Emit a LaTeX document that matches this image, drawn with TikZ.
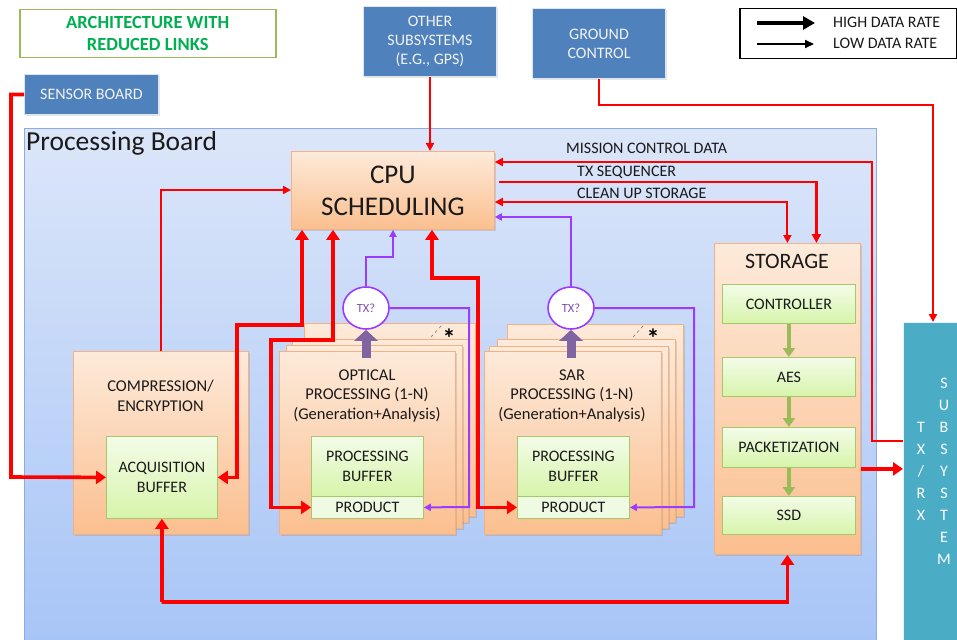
\documentclass[tikz,border=0pt]{standalone}
\usepackage{fontspec}
\setmainfont{Carlito}
\usetikzlibrary{arrows.meta,shadows,shapes.geometric}
\definecolor{rd}{HTML}{FF0000}
\definecolor{pur}{HTML}{9B3BFF}
\definecolor{purk}{HTML}{8064A2}
\definecolor{purt}{HTML}{7F4FB0}
\definecolor{blu}{HTML}{4F81BD}
\definecolor{tea}{HTML}{4BACC6}
\definecolor{grn}{HTML}{9BBB59}
\definecolor{titleg}{HTML}{00B050}
\definecolor{ortop}{HTML}{FDEADA}
\definecolor{orbot}{HTML}{FBBF8F}
\definecolor{orbd}{HTML}{F4B183}
\definecolor{grtop}{HTML}{F3FCE8}
\definecolor{grbot}{HTML}{D7F4AA}
\definecolor{grbd}{HTML}{A5C86A}
\definecolor{prodc}{HTML}{EEFAE2}
\definecolor{bdtop}{HTML}{DCE6F9}
\definecolor{bdbot}{HTML}{A7C5F7}
\definecolor{bdbd}{HTML}{8FAADC}
\definecolor{txt}{HTML}{1A1A1A}
\begin{document}
\begin{tikzpicture}[x=1pt,y=-1pt,
  every node/.style={inner sep=0pt, text=txt},
  fsz/.style={font=\fontsize{16}{19.5}\selectfont},
  orbox/.style={draw=orbd, line width=0.8pt, top color=ortop, bottom color=orbot, anchor=north west,
    drop shadow={shadow xshift=1.2pt, shadow yshift=-1.2pt, opacity=0.25}},
  grbox/.style={draw=grbd, line width=0.8pt, top color=grtop, bottom color=grbot, anchor=north west,
    align=center, fsz, drop shadow={shadow xshift=1pt, shadow yshift=-1pt, opacity=0.2}},
  bluebox/.style={fill=blu, draw=white!80!blu, line width=1pt, anchor=north west, text=white!95!black,
    align=center, font=\fontsize{16}{19}\selectfont,
    drop shadow={shadow xshift=1.2pt, shadow yshift=-1.2pt, opacity=0.2}},
  hi/.style={draw=rd, line width=3.6pt, >={Triangle[width=13pt,length=10pt]}},
  mid/.style={draw=rd, line width=2.6pt, >={Triangle[width=9pt,length=9pt]}},
  lo/.style={draw=rd, line width=2pt, >={Triangle[width=8pt,length=8pt]}},
  pu/.style={draw=pur, line width=2pt, >={Triangle[width=7pt,length=7pt]}},
  garr/.style={draw=grn, line width=4pt, -{Triangle[width=12pt,length=9pt]}},
  txq/.style={ellipse, draw=pur, line width=1.6pt, fill=white, minimum width=46pt, minimum height=42pt,
    text=purt, font=\fontsize{12.5}{14}\selectfont},
  lbl/.style={anchor=west, fsz}
]
\useasboundingbox (0,0) rectangle (957,639);
\fill[white] (0,0) rectangle (957,639);

% processing board
\node[draw=bdbd, line width=0.8pt, top color=bdtop, bottom color=bdbot, anchor=north west,
  minimum width=852pt, minimum height=515pt] (board) at (24,128) {};
\node[anchor=west, font=\fontsize{27.5}{30}\selectfont] (boardlbl) at (26,143) {Processing Board};

% title
\node[draw=grn, line width=1.5pt, fill=white, anchor=north west, minimum width=256pt, minimum height=48pt,
  align=center, font=\bfseries\fontsize{18.5}{22}\selectfont, text=titleg] (title) at (19,9)
  {ARCHITECTURE WITH\\REDUCED LINKS};

% blue boxes
\node[bluebox, minimum width=134pt, minimum height=40pt] (sensor) at (24,74) {SENSOR BOARD};
\node[bluebox, minimum width=133pt, minimum height=70pt] (oth) at (363,6) {OTHER\\SUBSYSTEMS\\(E.G., GPS)};
\node[bluebox, minimum width=133pt, minimum height=70pt] (gc) at (532,8) {GROUND\\CONTROL};

% legend
\node[draw=black, line width=1.5pt, fill=white, anchor=north west, minimum width=217pt, minimum height=50pt] (legend) at (739,8) {};
\coordinate (lh1) at (757,23); \coordinate (lh2) at (815,23);
\coordinate (ll1) at (757,44); \coordinate (ll2) at (814,44);
\draw[black, line width=4pt, -{Triangle[width=13pt,length=12pt]}] (lh1) -- (lh2);
\draw[black, line width=2pt, -{Triangle[width=8pt,length=9pt]}] (ll1) -- (ll2);
\node[lbl] (lgh) at (833,22) {HIGH DATA RATE};
\node[lbl] (lgl) at (833,43) {LOW DATA RATE};

% CPU
\node[orbox, minimum width=203pt, minimum height=78pt, align=center, font=\fontsize{27}{32}\selectfont] (cpu) at (291,151) {CPU\\SCHEDULING};

% compression
\node[orbox, minimum width=175pt, minimum height=183pt] (comp) at (73,351) {};
\node[align=center, font=\fontsize{16.5}{20}\selectfont] (compt) at (160.5,396) {COMPRESSION/\\ENCRYPTION};
\node[grbox, minimum width=111pt, minimum height=82pt] (acq) at (106,436) {ACQUISITION\\BUFFER};

% optical stack
\node[orbox, minimum width=171pt, minimum height=193pt] (ol4) at (304,323) {};
\node[orbox, minimum width=176pt, minimum height=183pt] (ol3) at (292,339) {};
\node[orbox, minimum width=176pt, minimum height=183pt] (ol2) at (286,345) {};
\node[orbox, minimum width=176pt, minimum height=183pt] (opt) at (279,351) {};
\node[align=center, font=\fontsize{16.5}{19.5}\selectfont] (optt) at (367,395.5) {OPTICAL\\PROCESSING (1-N)\\(Generation+Analysis)};
\node[grbox, minimum width=112pt, minimum height=60pt] (obuf) at (311,436) {PROCESSING\\BUFFER};
\node[draw=grbd, line width=0.8pt, fill=prodc, anchor=north west, minimum width=112pt, minimum height=22pt, fsz] (oprod) at (311,496) {PRODUCT};
\draw[gray, dashed, line width=0.6pt] (431,337) -- (442,325);
\node[font=\bfseries\fontsize{26}{26}\selectfont, text=black] (ostar) at (449,338) {*};

% SAR stack
\node[orbox, minimum width=176pt, minimum height=192pt] (sl4) at (507,324) {};
\node[orbox, minimum width=178pt, minimum height=183pt] (sl3) at (497,339) {};
\node[orbox, minimum width=179pt, minimum height=182pt] (sl2) at (489,346) {};
\node[orbox, minimum width=177pt, minimum height=183pt] (sar) at (484,351) {};
\node[align=center, font=\fontsize{16.5}{19.5}\selectfont] (sart) at (572,395.5) {SAR\\PROCESSING (1-N)\\(Generation+Analysis)};
\node[grbox, minimum width=112pt, minimum height=60pt] (sbuf) at (517,436) {PROCESSING\\BUFFER};
\node[draw=grbd, line width=0.8pt, fill=prodc, anchor=north west, minimum width=112pt, minimum height=22pt, fsz] (sprod) at (517,496) {PRODUCT};
\draw[gray, dashed, line width=0.6pt] (633,337) -- (644,325);
\node[font=\bfseries\fontsize{26}{26}\selectfont, text=black] (sstar) at (653,338) {*};

% TX? circles
\node[txq] (tx1) at (366,308) {TX?};
\node[txq] (tx2) at (571,308) {TX?};
\coordinate (pa1) at (366,358);
\coordinate (pa2) at (571,358);
\draw[draw=purk, line width=9pt, -{Triangle[width=23pt,length=11pt]}] (pa1) -- (tx1.south);
\draw[draw=purk, line width=9pt, -{Triangle[width=23pt,length=11pt]}] (pa2) -- (tx2.south);

% storage
\node[orbox, minimum width=146pt, minimum height=311pt] (storage) at (714,243) {};
\node[font=\fontsize{22}{24}\selectfont] (stt) at (787,261) {STORAGE};
\node[grbox, minimum width=133pt, minimum height=39pt] (ctrl) at (722,284) {CONTROLLER};
\node[grbox, minimum width=133pt, minimum height=39pt] (aes) at (722,357) {AES};
\node[grbox, minimum width=133pt, minimum height=40pt] (pack) at (722,427) {PACKETIZATION};
\node[grbox, minimum width=133pt, minimum height=38pt] (ssd) at (722,496) {SSD};
\draw[garr] (ctrl.south) -- (aes.north);
\draw[garr] (aes.south) -- (pack.north);
\draw[garr] (pack.south) -- (ssd.north);

% TX/RX subsystem
\node[fill=tea, draw=white!85!tea, line width=1pt, anchor=north west, minimum width=60pt, minimum height=320pt] (txrx) at (903,322) {};
\node[align=center, text=white, font=\fontsize{16}{22}\selectfont] (txrxa) at (921,471) {T\\X\\/\\R\\X};
\node[align=center, text=white, font=\fontsize{16}{22}\selectfont] (txrxb) at (944,471) {S\\U\\B\\S\\Y\\S\\T\\E\\M};

% labels of control lines
\node[lbl] (mcdl) at (566,148) {MISSION CONTROL DATA};
\node[lbl] (txsl) at (577,172) {TX SEQUENCER};
\node[lbl] (cusl) at (577,193) {CLEAN UP STORAGE};

% ---- connectors ----
\coordinate (sx) at (11,477);
\draw[hi,->] (sensor.west) -| (sx) -- (acq.west);
\draw[lo,->] (oth.south) -- (oth.south |- cpu.north);
\coordinate (gcb) at (933,105);
\draw[lo,->] (gc.south) |- (gcb) -- ([xshift=30pt]txrx.north west);
\coordinate (mcA) at (903,441);
\coordinate (mcB) at (872,162);
\draw[lo,->] (mcA) -| (mcB) -- ([yshift=-11pt]cpu.north east);
\draw[mid,->] ([xshift=4pt,yshift=-31pt]cpu.north east) -| ([xshift=29pt]storage.north);
\draw[lo,<->] ([yshift=-51pt]cpu.north east) -| (storage.north);
\draw[lo,->] (comp.north) |- ([yshift=-39pt]cpu.north west);
\coordinate (b1) at (237,325);
\draw[hi,<->] ([xshift=11pt]cpu.south west) |- (b1) |- (acq.east);
\coordinate (b2) at (271,340);
\draw[hi,<->] ([xshift=42pt]cpu.south west) |- (b2) |- (oprod.west);
\coordinate (b3) at (478,278);
\draw[hi,<->] ([xshift=141pt]cpu.south west) |- (b3) |- (sprod.west);
\coordinate (b4) at (393,257);
\draw[pu,->] (tx1.north) |- (b4) -- ([xshift=102pt]cpu.south west);
\coordinate (b5) at (469,507);
\draw[pu,->] (tx1.east) -| (b5) -- (oprod.east);
\draw[pu,->] (tx2.north) |- ([yshift=-66pt]cpu.north east);
\coordinate (b6) at (694,507);
\draw[pu,->] (tx2.east) -| (b6) -- (sprod.east);
\coordinate (b7) at (161.5,602);
\draw[hi,<->] (acq.south) |- (b7) -| (storage.south);
\coordinate (sst) at ([yshift=-70pt]storage.east);
\draw[hi,->] (sst) -- (txrx.west |- sst);
\end{tikzpicture}
\end{document}
